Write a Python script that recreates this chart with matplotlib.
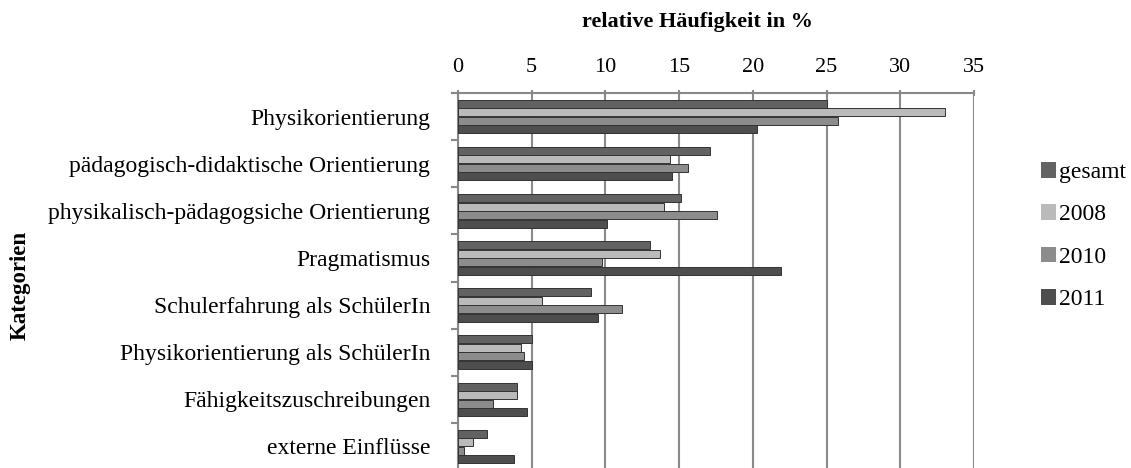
import numpy as np
import matplotlib.pyplot as plt
from matplotlib.patches import Patch

categories = [
    'Physikorientierung',
    'pädagogisch-didaktische Orientierung',
    'physikalisch-pädagogsiche Orientierung',
    'Pragmatismus',
    'Schulerfahrung als SchülerIn',
    'Physikorientierung als SchülerIn',
    'Fähigkeitszuschreibungen',
    'externe Einflüsse',
]
series_names = ['gesamt', '2008', '2010', '2011']
gesamt = [25.0, 17.1, 15.1, 13.0, 9.0, 5.0, 4.0, 2.0]
y2008 = [33.0, 14.4, 14.0, 13.7, 5.7, 4.3, 4.0, 1.0]
y2010 = [25.8, 15.6, 17.6, 9.8, 11.1, 4.5, 2.4, 0.4]
y2011 = [20.3, 14.5, 10.1, 21.9, 9.5, 5.0, 4.7, 3.8]
colors = ['#626262', '#bababa', '#8c8c8c', '#4e4e4e']

plt.rcParams['font.family'] = ['Liberation Serif', 'DejaVu Serif']

fig = plt.figure(figsize=(11.31, 4.68), dpi=100)
ax = fig.add_axes([458 / 1131, -2 / 468, 516 / 1131, 377 / 468])

n = len(categories)
pos = np.arange(n)
bh = 0.18
all_series = [gesamt, y2008, y2010, y2011]
for i, (vals, name, col) in enumerate(zip(all_series, series_names, colors)):
    offs = (i - 1.5) * bh
    ax.barh(pos + offs, vals, height=bh * 0.95, color=col, edgecolor='#333333',
            linewidth=0.7, zorder=3)

ax.set_xlim(0, 35)
ax.set_ylim(n - 0.5, -0.5)
ax.set_xticks(np.arange(0, 36, 5))
ax.xaxis.tick_top()
ax.tick_params(axis='x', labelsize=16, length=5, width=1.5, color='#888888',
               direction='inout', pad=9)
ax.set_yticks(pos)
ax.set_yticklabels(categories, fontsize=17)
ax.set_yticks(np.arange(n + 1) - 0.5, minor=True)
ax.tick_params(axis='y', which='major', length=0, pad=20)
ax.tick_params(axis='y', which='minor', length=5, width=1.5, color='#888888')
ax.grid(axis='x', color='#8a8a8a', linewidth=1.5, zorder=0)
for s in ['right', 'bottom']:
    ax.spines[s].set_visible(False)
for s in ['top', 'left']:
    ax.spines[s].set_color('#888888')
    ax.spines[s].set_linewidth(1.5)

fig.text(698 / 1131, 1 - 22 / 468, 'relative Häufigkeit in %', ha='center', va='center',
         fontsize=16, fontweight='bold')
fig.text(20 / 1131, 1 - 285 / 468, 'Kategorien', rotation=90, ha='center', va='center',
         fontsize=16.5, fontweight='bold')

handles = [Patch(facecolor=c, edgecolor='none') for c in colors]
fig.legend(handles, series_names, loc='center left', bbox_to_anchor=(1041 / 1131, 1 - 236 / 468),
           frameon=False, fontsize=17, handlelength=0.65, handleheight=0.65,
           handletextpad=0.1, labelspacing=0.9, borderpad=0, borderaxespad=0)

fig.savefig('out.png', dpi=100)
